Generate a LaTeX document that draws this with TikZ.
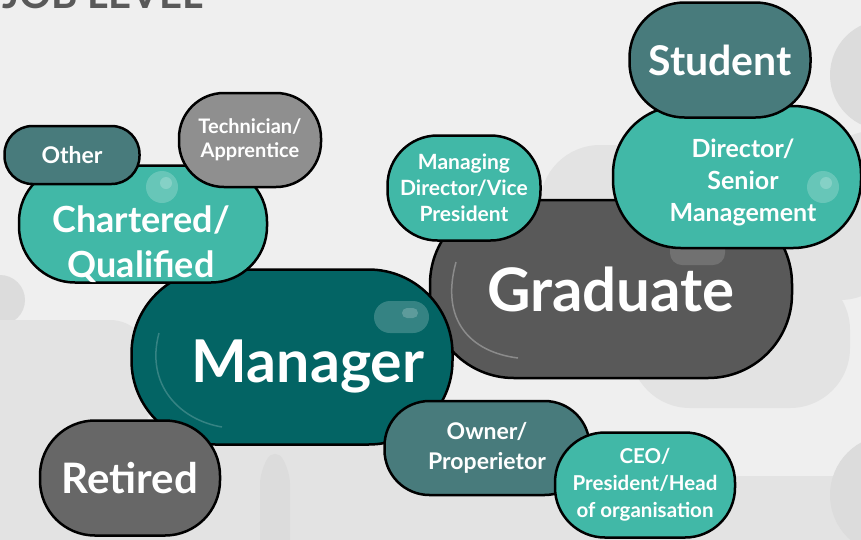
\documentclass[tikz,border=0pt]{standalone}
\usepackage{fontspec}
\setmainfont{Lato}

\definecolor{bgcol}{HTML}{EFEFEF}
\definecolor{ghost}{HTML}{E3E3E3}
\definecolor{ghostdark}{HTML}{DCDCDC}
\definecolor{aqua}{HTML}{41B8A7}
\definecolor{deepteal}{HTML}{036464}
\definecolor{slate}{HTML}{487B7C}
\definecolor{charcoal}{HTML}{595959}
\definecolor{ash}{HTML}{676767}
\definecolor{silver}{HTML}{8F8F8F}

\newcommand{\fsz}[2]{\fontsize{#1}{#2}\selectfont\bfseries}

\begin{document}
\begin{tikzpicture}[x = 1pt, y = -1pt,
    every node/.style = {text = white, align = center, inner sep = 0pt},
    box/.style = {draw = black, line width = 2.5pt},
    pill/.style n args = {3}{minimum width = #1pt, minimum height = #2pt, rounded corners = #3pt},
    glow/.style = {fill = white, opacity = 0.2}]
    \useasboundingbox (0,0) rectangle (861,539);
    \fill[bgcol] (0,0) rectangle (861,539);
    % faint shapes in the back
    \fill[ghost, rounded corners = 60] (540,145) rectangle (900,300);
    \fill[ghost, rounded corners = 60] (630,270) rectangle (850,408);
    \fill[ghostdark] (885,75) circle (55);
    \fill[ghost] (880,210) circle (80);
    \fill[ghost, rounded corners = 40] (560,476) rectangle (900,580);
    \fill[ghostdark] (890,495) circle (60);
    \fill[ghostdark] (0,300) circle (25);
    \fill[ghost, rounded corners = 40] (-40,320) rectangle (150,445);
    \fill[ghost] (0,440) rectangle (560,560);
    \fill[ghostdark, rounded corners = 14] (260,560) -- (260,470) -- (275,447) -- (290,470) -- (290,560);
    \node[text = charcoal, font = \fsz{40}{40}, anchor = base west] (heading) at (2,8) {JOB LEVEL};

    % Graduate
    \node[box, fill = charcoal, pill = {362}{178}{84}, font = \fsz{60}{60}] (graduate) at (611,289) {Graduate};
    \fill[white, opacity = 0.15, rounded corners = 12] (670,235) rectangle (725,265);
    \draw[white, opacity = 0.3, line width = 1.5pt] (456,262) .. controls (440,320) and (470,352) .. (518,358);

    % Manager
    \node[box, fill = deepteal, pill = {321}{175}{84}] (manager) at (292,357) {};
    \fill[glow, rounded corners = 16] (374,301) rectangle (429,333);
    \fill[glow, rounded corners = 5] (402,308) rectangle (418,318);
    \draw[white, opacity = 0.2, line width = 1.5pt] (159,333) .. controls (145,385) and (180,420) .. (222,427);
    \node[font = \fsz{59}{59}] (managertxt) at ([shift = {(16,9)}]manager.center) {Manager};

    % Chartered
    \node[box, fill = aqua, pill = {248}{117}{56}] (chartered) at (143,224) {};
    \fill[glow] (162,187) circle (16);
    \fill[glow] (166,183) circle (6);
    \node[font = \fsz{36}{45}] (charteredtxt) at ([shift = {(-2,20)}]chartered.center) {Chartered/\\Qualified};

    \node[box, fill = slate, pill = {135}{58}{28}, font = \fsz{23}{23}] (other) at (72,155) {Other};
    \node[box, fill = silver, pill = {142}{94}{45}, font = \fsz{20}{24}] (technician) at (250,140) {Technician/\\Apprentice};
    \node[box, fill = aqua, pill = {153}{105}{50}, font = \fsz{21}{26}] (md) at (464,188) {Managing\\Director/Vice\\President};

    % Director
    \node[box, fill = aqua, pill = {248}{142}{68}] (director) at (737,177) {};
    \fill[glow] (823,187) circle (16);
    \fill[glow] (826,183) circle (6);
    \node[font = \fsz{25}{32}] (directortxt) at ([shift = {(6,5)}]director.center) {Director/\\Senior\\Management};

    \node[box, fill = slate, pill = {181}{115}{55}, font = \fsz{41}{41}] (student) at (720,60) {Student};
    \node[box, fill = ash, pill = {180}{115}{55}, font = \fsz{42}{42}] (retired) at (130,478) {Retired};
    \node[box, fill = slate, pill = {205}{94}{45}, font = \fsz{23}{30}] (owner) at (487,448) {Owner/\\Properietor};
    \node[box, fill = aqua, pill = {180}{105}{50}, font = \fsz{20.5}{27}] (ceo) at (645,485) {CEO/\\President/Head\\of organisation};
\end{tikzpicture}
\end{document}
